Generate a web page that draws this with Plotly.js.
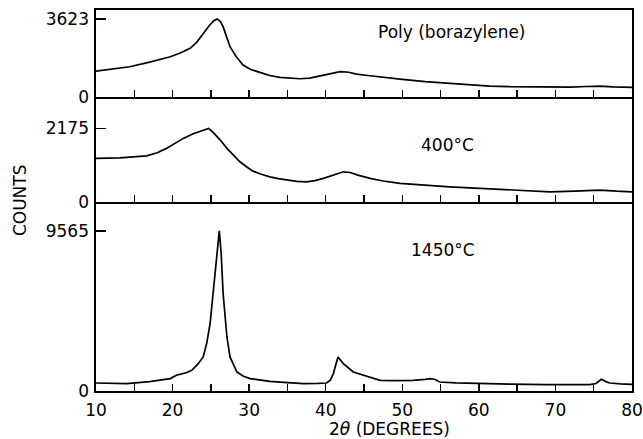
<!DOCTYPE html>
<html>
<head>
<meta charset="utf-8">
<script src="https://cdn.plot.ly/plotly-3.0.1.min.js"></script>
<style>html,body{margin:0;padding:0;background:#fff;}#chart{width:643px;height:439px;}</style>
</head>
<body>
<div id="chart"></div>
<script>
// Poly(borazylene) pattern (top panel)
const polyX = [10, 12, 14.4, 17, 19.7, 21, 22.3, 23.2, 24.0, 24.8, 25.4, 25.8, 26.2, 26.6, 27.0, 27.5, 28.3, 29.2, 30.2, 31.4, 32.7, 34.0, 35.3, 36.6, 37.9, 39.2, 40.5, 41.9, 43.0, 44.0, 45.5, 47.5, 50, 53, 56.2, 59, 61.4, 64, 66.5, 69.3, 72, 74, 75.8, 77.5, 79.7, 80];
const polyY = [1206, 1300, 1406, 1620, 1870, 2040, 2260, 2560, 2955, 3320, 3540, 3623, 3520, 3262, 2850, 2334, 1880, 1485, 1280, 1128, 1000, 914, 870, 850, 880, 974, 1080, 1175, 1150, 1067, 1000, 914, 820, 720, 636, 570, 510, 480, 465, 450, 460, 490, 510, 470, 450, 450];

// 400 °C pattern (middle panel)
const c400X = [10, 13.1, 16.6, 18, 19.2, 20.3, 21.4, 22.7, 24.0, 24.7, 25.3, 26.2, 27.1, 28.0, 28.8, 29.7, 30.5, 31.6, 32.7, 33.8, 34.9, 36.2, 37.5, 38.6, 39.7, 41.0, 42.3, 43.2, 44.2, 45.8, 47.5, 49.7, 53, 56.2, 59.5, 62.7, 66, 69.3, 72.5, 75.8, 78, 79.7, 80];
const c400Y = [1294, 1311, 1370, 1460, 1588, 1730, 1882, 2020, 2126, 2175, 2058, 1840, 1588, 1380, 1194, 1040, 920, 830, 753, 700, 656, 620, 606, 640, 706, 810, 900, 880, 803, 706, 630, 559, 500, 459, 420, 382, 345, 312, 330, 362, 330, 312, 312];

// 1450 °C pattern (bottom panel)
const c1450X = [10, 14, 17, 19.2, 19.7, 20.5, 21.7, 22.5, 23.3, 24.0, 24.45, 24.9, 25.3, 25.5, 25.8, 26.1, 26.35, 26.6, 27.1, 27.5, 28.4, 29.2, 30.1, 32.7, 35, 37.1, 39, 40.1, 40.6, 41.0, 41.6, 42.3, 43.6, 45.8, 47.1, 49, 51.4, 53.0, 53.6, 54.2, 54.9, 57, 60.1, 64, 68.8, 72, 74.5, 75.3, 76.0, 76.6, 77.1, 78.5, 79.7, 80];
const c1450Y = [478, 442, 560, 700, 741, 939, 1080, 1238, 1600, 2033, 2835, 4030, 5825, 6817, 8400, 9565, 8200, 5825, 3229, 2033, 1136, 900, 741, 580, 500, 442, 450, 478, 650, 1040, 2033, 1638, 1136, 837, 640, 620, 640, 700, 741, 700, 538, 480, 442, 410, 383, 383, 383, 450, 700, 560, 478, 430, 400, 400];

// axis tops and labelled ticks
const polyMax = 3623, c400Max = 2175, c1450Max = 9565;
const polyTop = 4037, c400Top = 3096, c1450Top = 11266;
const xTickVals = [10, 15, 20, 25, 30, 35, 40, 45, 50, 55, 60, 65, 70, 75, 80];
const xTickText = ['10', '', '20', '', '30', '', '40', '', '50', '', '60', '', '70', '', '80'];
const panelLabels = ['Poly (borazylene)', '400°C', '1450°C'];

const lineStyle = {color: '#000', width: 1.7};
const traces = [
  {x: c1450X, y: c1450Y, xaxis: 'x', yaxis: 'y', mode: 'lines', line: lineStyle, hoverinfo: 'skip'},
  {x: c400X, y: c400Y, xaxis: 'x2', yaxis: 'y2', mode: 'lines', line: lineStyle, hoverinfo: 'skip'},
  {x: polyX, y: polyY, xaxis: 'x3', yaxis: 'y3', mode: 'lines', line: lineStyle, hoverinfo: 'skip'}
];

const font = {family: 'DejaVu Sans, sans-serif', size: 17, color: '#000'};
function xAxis(anchor, labels, mirror) {
  return {
    anchor: anchor, range: [10, 80], showgrid: false, zeroline: false,
    showline: true, mirror: mirror, linecolor: '#000', linewidth: 1.6,
    ticks: 'inside', ticklen: 7, tickwidth: 1.4, tickcolor: '#000',
    tickvals: xTickVals, ticktext: xTickText, showticklabels: labels,
    tickfont: font, ticklabelstandoff: 3
  };
}
function yAxis(domain, top, maxv, anchor) {
  return {
    domain: domain, anchor: anchor, range: [0, top], showgrid: false, zeroline: false,
    showline: true, mirror: true, linecolor: '#000', linewidth: 1.6,
    ticks: 'inside', ticklen: 10, tickwidth: 1.4, tickcolor: '#000',
    tickvals: [0, maxv], ticktext: ['0', String(maxv)], tickfont: font, ticklabelstandoff: 2
  };
}
function note(text, x, y, angle) {
  return {text: text, xref: 'paper', yref: 'paper', x: x, y: y, xanchor: 'center', yanchor: 'middle',
          textangle: angle || 0, showarrow: false, font: font};
}

const layout = {
  width: 643, height: 439,
  margin: {l: 96, r: 11, t: 10, b: 48},
  paper_bgcolor: '#fff', plot_bgcolor: '#fff',
  showlegend: false,
  font: font,
  xaxis: xAxis('y', true, false),
  xaxis2: xAxis('y2', false, false),
  xaxis3: xAxis('y3', false, true),
  yaxis: yAxis([0, 0.4949], c1450Top, c1450Max, 'x'),
  yaxis2: yAxis([0.4949, 0.7715], c400Top, c400Max, 'x2'),
  yaxis3: yAxis([0.7715, 1], polyTop, polyMax, 'x3'),
  annotations: [
    note(panelLabels[0], 0.6642, 0.9423),
    note(panelLabels[1], 0.6549, 0.6457),
    note(panelLabels[2], 0.6474, 0.3702),
    note('COUNTS', -0.1418, 0.501, -90),
    note('2<i>θ</i> (DEGREES)', 0.547, -0.0997)
  ]
};

Plotly.newPlot('chart', traces, layout, {staticPlot: true, displayModeBar: false});
</script>
</body>
</html>
